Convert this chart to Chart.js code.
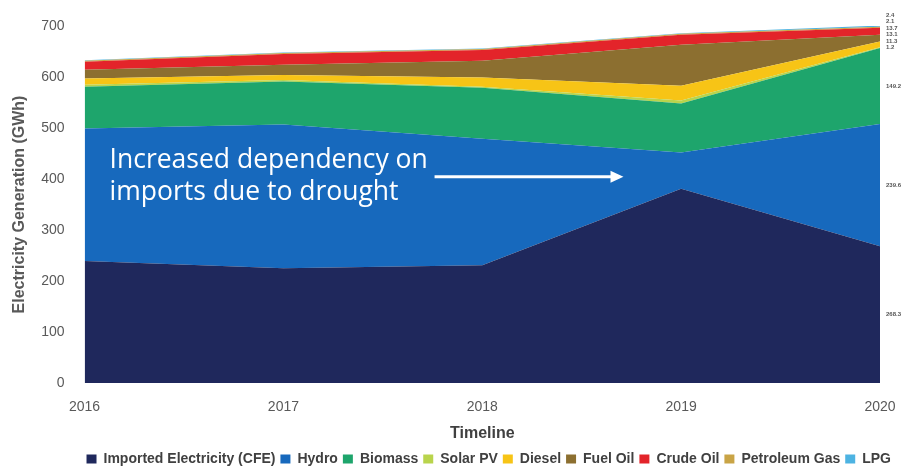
<!DOCTYPE html>
<html>
<head>
<meta charset="utf-8">
<script src="https://cdn.jsdelivr.net/npm/chart.js@4.4.1/dist/chart.umd.min.js"></script>
<style>
  html, body { margin: 0; padding: 0; background: #fff; }
  #wrap { width: 908px; height: 466px; position: relative; }
</style>
</head>
<body>
<div id="wrap"><canvas id="chart"></canvas></div>
<script>
const years = ["2016", "2017", "2018", "2019", "2020"];

const imported = [239, 225, 231, 381, 268.3];
const hydro = [260, 282, 248, 71, 239.6];
const biomass = [82, 84, 100, 96, 149.2];
const solarPV = [4, 3, 2, 6, 1.2];
const diesel = [12, 10, 18, 29, 11.3];
const fuelOil = [17, 20, 33, 80, 13.1];
const crudeOil = [16, 21, 21, 20, 13.7];
const petroleumGas = [2, 2, 2, 2, 2.1];
const lpg = [1, 1, 1, 1, 2.4];

const seriesNames = ["Imported Electricity (CFE)", "Hydro", "Biomass", "Solar PV", "Diesel",
  "Fuel Oil", "Crude Oil", "Petroleum Gas", "LPG"];
const seriesData = [imported, hydro, biomass, solarPV, diesel, fuelOil, crudeOil, petroleumGas, lpg];
const colors = ["#1f285c", "#1769bd", "#1ea56c", "#b9d44c", "#f7c416",
  "#8c6f30", "#e3242a", "#c9a446", "#4db3e2"];

const datasets = seriesData.map(function (d, i) {
  return {
    label: seriesNames[i],
    data: d,
    backgroundColor: colors[i],
    borderColor: colors[i],
    borderWidth: 0,
    pointRadius: 0,
    tension: 0,
    fill: i === 0 ? "origin" : "-1"
  };
});

// value labels at the right edge, like the original
const endLabels = {
  id: "endLabels",
  afterDatasetsDraw(chart) {
    const ctx = chart.ctx;
    const y = chart.scales.y;
    const area = chart.chartArea;
    const last = years.length - 1;
    let base = 0;
    let prevY = Infinity;
    ctx.save();
    ctx.font = "bold 6px 'Liberation Sans'";
    ctx.fillStyle = "#555";
    ctx.textBaseline = "middle";
    ctx.textAlign = "left";
    seriesData.forEach(function (d) {
      const v = d[last];
      let py = y.getPixelForValue(base + v / 2);
      if (py > prevY - 6.5) py = prevY - 6.5;
      ctx.fillText(v.toFixed(1), area.right + 6, py);
      prevY = py;
      base += v;
    });
    ctx.restore();
  }
};

const note = {
  id: "note",
  afterDatasetsDraw(chart) {
    const ctx = chart.ctx;
    const x = chart.scales.x;
    const y = chart.scales.y;
    const tx = x.getPixelForValue(0) + 25;
    const ty = y.getPixelForValue(436);
    ctx.save();
    ctx.fillStyle = "#fff";
    ctx.strokeStyle = "#fff";
    ctx.font = "26.5px 'Open Sans'";
    ctx.textBaseline = "middle";
    ctx.fillText("Increased dependency on", tx, ty);
    ctx.fillText("imports due to drought", tx, ty + 32);
    const ay = ty + 16;
    const ax0 = tx + 325;
    const ax1 = x.getPixelForValue(2.71);
    ctx.lineWidth = 3;
    ctx.beginPath();
    ctx.moveTo(ax0, ay);
    ctx.lineTo(ax1 - 10, ay);
    ctx.stroke();
    ctx.beginPath();
    ctx.moveTo(ax1, ay);
    ctx.lineTo(ax1 - 13, ay - 6);
    ctx.lineTo(ax1 - 13, ay + 6);
    ctx.closePath();
    ctx.fill();
    ctx.restore();
  }
};

new Chart(document.getElementById("chart"), {
  type: "line",
  data: { labels: years, datasets: datasets },
  options: {
    responsive: true,
    maintainAspectRatio: false,
    animation: false,
    layout: { padding: { top: 26, right: 12, left: 6, bottom: -10 } },
    plugins: {
      legend: {
        position: "bottom",
        align: "end",
        labels: {
          boxWidth: 10,
          boxHeight: 9,
          padding: 5,
          color: "#404040",
          font: { size: 14, family: "'Liberation Sans'", weight: "bold" }
        }
      },
      tooltip: { enabled: false }
    },
    scales: {
      x: {
        offset: false,
        grid: { display: false },
        border: { display: false },
        ticks: { color: "#595959", font: { size: 14, family: "'Liberation Sans'" }, padding: 7.5 },
        title: {
          display: true,
          text: "Timeline",
          color: "#404040",
          font: { size: 16, weight: "bold", family: "'Liberation Sans'" },
          padding: { top: 1, bottom: 4 }
        }
      },
      y: {
        stacked: true,
        min: 0,
        max: 700,
        grid: { display: false },
        border: { display: false },
        ticks: { stepSize: 100, color: "#595959", font: { size: 14, family: "'Liberation Sans'" }, padding: 12 },
        title: {
          display: true,
          text: "Electricity Generation (GWh)",
          color: "#595959",
          font: { size: 16, weight: "bold", family: "'Liberation Sans'" },
          padding: { top: 4, bottom: 0 }
        }
      },
      // empty right-hand strip that holds the end labels
      side: {
        position: "right",
        display: true,
        grid: { display: false },
        border: { display: false },
        ticks: { display: false },
        afterFit(scale) { scale.width = 16; }
      }
    }
  },
  plugins: [endLabels, note]
});
</script>
</body>
</html>
